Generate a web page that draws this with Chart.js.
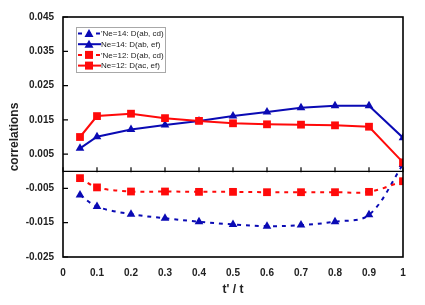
<!DOCTYPE html>
<html>
<head>
<meta charset="utf-8">
<script src="https://cdn.jsdelivr.net/npm/chart.js@4"></script>
<style>
  html, body { margin: 0; padding: 0; background: #fff; }
  #wrap { width: 425px; height: 305px; }
</style>
</head>
<body>
<div id="wrap"><canvas id="corrChart" width="425" height="305"></canvas></div>
<script>
// x positions (t'/t)
const tRatio = [0.05, 0.1, 0.2, 0.3, 0.4, 0.5, 0.6, 0.7, 0.8, 0.9, 1.0];

// series values
const ne14AbCd = [-0.0069, -0.0103, -0.0125, -0.0137, -0.0147, -0.0155, -0.0160, -0.0157, -0.0147, -0.0127, 0.0020];
const ne14AbEf = [0.0067, 0.0101, 0.0122, 0.0135, 0.0147, 0.0161, 0.0173, 0.0185, 0.0191, 0.0191, 0.0098];
const ne12AbCd = [-0.0020, -0.0047, -0.0059, -0.0059, -0.0060, -0.0060, -0.0061, -0.0061, -0.0061, -0.0060, -0.0029];
const ne12AcEf = [0.0100, 0.0161, 0.0168, 0.0155, 0.0147, 0.0140, 0.0137, 0.0136, 0.0134, 0.0130, 0.0026];

// tick labels
const xTicks = [0, 0.1, 0.2, 0.3, 0.4, 0.5, 0.6, 0.7, 0.8, 0.9, 1];
const yTicks = [-0.025, -0.015, -0.005, 0.005, 0.015, 0.025, 0.035, 0.045];

const BLUE = '#0a0ab4';
const RED = '#ff0a0a';

function pts(ys) {
    return tRatio.map((x, i) => ({ x: x, y: ys[i] }));
}

// legend entries, drawn by the plugin below
const legendItems = [
    { text: "'Ne=14: D(ab, cd)", color: BLUE, dash: [4, 5], marker: 'triangle' },
    { text: 'Ne=14: D(ab, ef)', color: BLUE, dash: [], marker: 'triangle' },
    { text: "'Ne=12: D(ab, cd)", color: RED, dash: [4, 5], marker: 'rect' },
    { text: 'Ne=12: D(ac, ef)', color: RED, dash: [], marker: 'rect' }
];

function drawMarker(ctx, kind, x, y, color) {
    ctx.save();
    ctx.fillStyle = color;
    ctx.setLineDash([]);
    ctx.beginPath();
    if (kind === 'triangle') {
        ctx.moveTo(x, y - 4.5);
        ctx.lineTo(x + 4.5, y + 3.5);
        ctx.lineTo(x - 4.5, y + 3.5);
        ctx.closePath();
    } else {
        ctx.rect(x - 4, y - 4, 8, 8);
    }
    ctx.fill();
    ctx.restore();
}

// frame, zero line, inward ticks and the boxed legend
const framePlugin = {
    id: 'framePlugin',
    beforeDatasetsDraw(chart) {
        const ctx = chart.ctx;
        const a = chart.chartArea;
        const xs = chart.scales.x, ys = chart.scales.y;
        const y0 = ys.getPixelForValue(0);
        ctx.save();
        ctx.strokeStyle = '#000';
        ctx.lineWidth = 1.2;
        ctx.beginPath();
        ctx.moveTo(a.left, y0);
        ctx.lineTo(a.right, y0);
        xTicks.forEach(v => {
            const px = xs.getPixelForValue(v);
            ctx.moveTo(px, y0 - 4);
            ctx.lineTo(px, y0 + 1);
        });
        yTicks.forEach(v => {
            const py = ys.getPixelForValue(v);
            ctx.moveTo(a.left, py);
            ctx.lineTo(a.left + 5, py);
        });
        ctx.stroke();
        ctx.restore();
    },
    afterDatasetsDraw(chart) {
        const ctx = chart.ctx;
        const a = chart.chartArea;
        ctx.save();
        ctx.strokeStyle = '#000';
        ctx.lineWidth = 1.6;
        ctx.strokeRect(a.left, a.top, a.right - a.left, a.bottom - a.top);

        // legend box
        const bx = 76, by = 27, bw = 89, bh = 45;
        ctx.fillStyle = '#fff';
        ctx.fillRect(bx, by, bw, bh);
        ctx.strokeStyle = '#a8a8a8';
        ctx.lineWidth = 1;
        ctx.strokeRect(bx + 0.5, by + 0.5, bw, bh);
        ctx.font = '8px "Liberation Sans", Arial, sans-serif';
        ctx.textBaseline = 'middle';
        legendItems.forEach((it, i) => {
            const ry = 33.5 + i * 10.7;
            ctx.strokeStyle = it.color;
            ctx.lineWidth = 2;
            ctx.setLineDash(it.dash);
            ctx.beginPath();
            ctx.moveTo(78, ry);
            ctx.lineTo(101, ry);
            ctx.stroke();
            ctx.setLineDash([]);
            drawMarker(ctx, it.marker, 89, ry, it.color);
            ctx.fillStyle = '#222';
            ctx.fillText(it.text, 101, ry + 0.5);
        });
        ctx.restore();
    }
};

const tickFont = { family: '"Liberation Sans", Arial, sans-serif', size: 10, weight: 'bold' };
const titleFont = { family: '"Liberation Sans", Arial, sans-serif', size: 12, weight: 'bold' };

new Chart(document.getElementById('corrChart').getContext('2d'), {
    type: 'line',
    data: {
        datasets: [
            {
                label: 'Ne=14: D(ab, cd)', data: pts(ne14AbCd),
                borderColor: BLUE, backgroundColor: BLUE, borderWidth: 2,
                borderDash: [4, 5], tension: 0.35,
                pointStyle: 'triangle', pointRadius: 5, pointBorderWidth: 0, order: 4
            },
            {
                label: 'Ne=14: D(ab, ef)', data: pts(ne14AbEf),
                borderColor: BLUE, backgroundColor: BLUE, borderWidth: 2,
                tension: 0,
                pointStyle: 'triangle', pointRadius: 5, pointBorderWidth: 0, order: 3
            },
            {
                label: 'Ne=12: D(ab, cd)', data: pts(ne12AbCd),
                borderColor: RED, backgroundColor: RED, borderWidth: 2,
                borderDash: [4, 5], tension: 0.35,
                pointStyle: 'rect', pointRadius: 5.5, pointBorderWidth: 0, order: 2
            },
            {
                label: 'Ne=12: D(ac, ef)', data: pts(ne12AcEf),
                borderColor: RED, backgroundColor: RED, borderWidth: 2,
                tension: 0,
                pointStyle: 'rect', pointRadius: 5.5, pointBorderWidth: 0, order: 1
            }
        ]
    },
    options: {
        responsive: false,
        animation: false,
        layout: { padding: { top: 17, right: 22, left: 0, bottom: 0 } },
        plugins: {
            legend: { display: false },
            tooltip: { enabled: false }
        },
        scales: {
            x: {
                type: 'linear', min: 0, max: 1,
                grid: { display: false, drawTicks: false },
                border: { display: false },
                afterBuildTicks: s => { s.ticks = xTicks.map(v => ({ value: v })); },
                afterFit: s => { s.height = 48; },
                ticks: {
                    color: '#222', font: tickFont, padding: 10, maxRotation: 0,
                    callback: v => String(v)
                },
                title: { display: true, text: "t' / t", color: '#222', font: titleFont, padding: { top: 2, bottom: 8 } }
            },
            y: {
                type: 'linear', min: -0.025, max: 0.045,
                grid: { display: false, drawTicks: false },
                border: { display: false },
                afterBuildTicks: s => { s.ticks = yTicks.map(v => ({ value: v })); },
                afterFit: s => { s.width = 63; },
                ticks: {
                    color: '#222', font: tickFont, padding: 9,
                    callback: v => v.toFixed(3)
                },
                title: { display: true, text: 'correlations', color: '#222', font: titleFont, padding: { top: 7, bottom: 2 } }
            }
        }
    },
    plugins: [framePlugin]
});
</script>
</body>
</html>
